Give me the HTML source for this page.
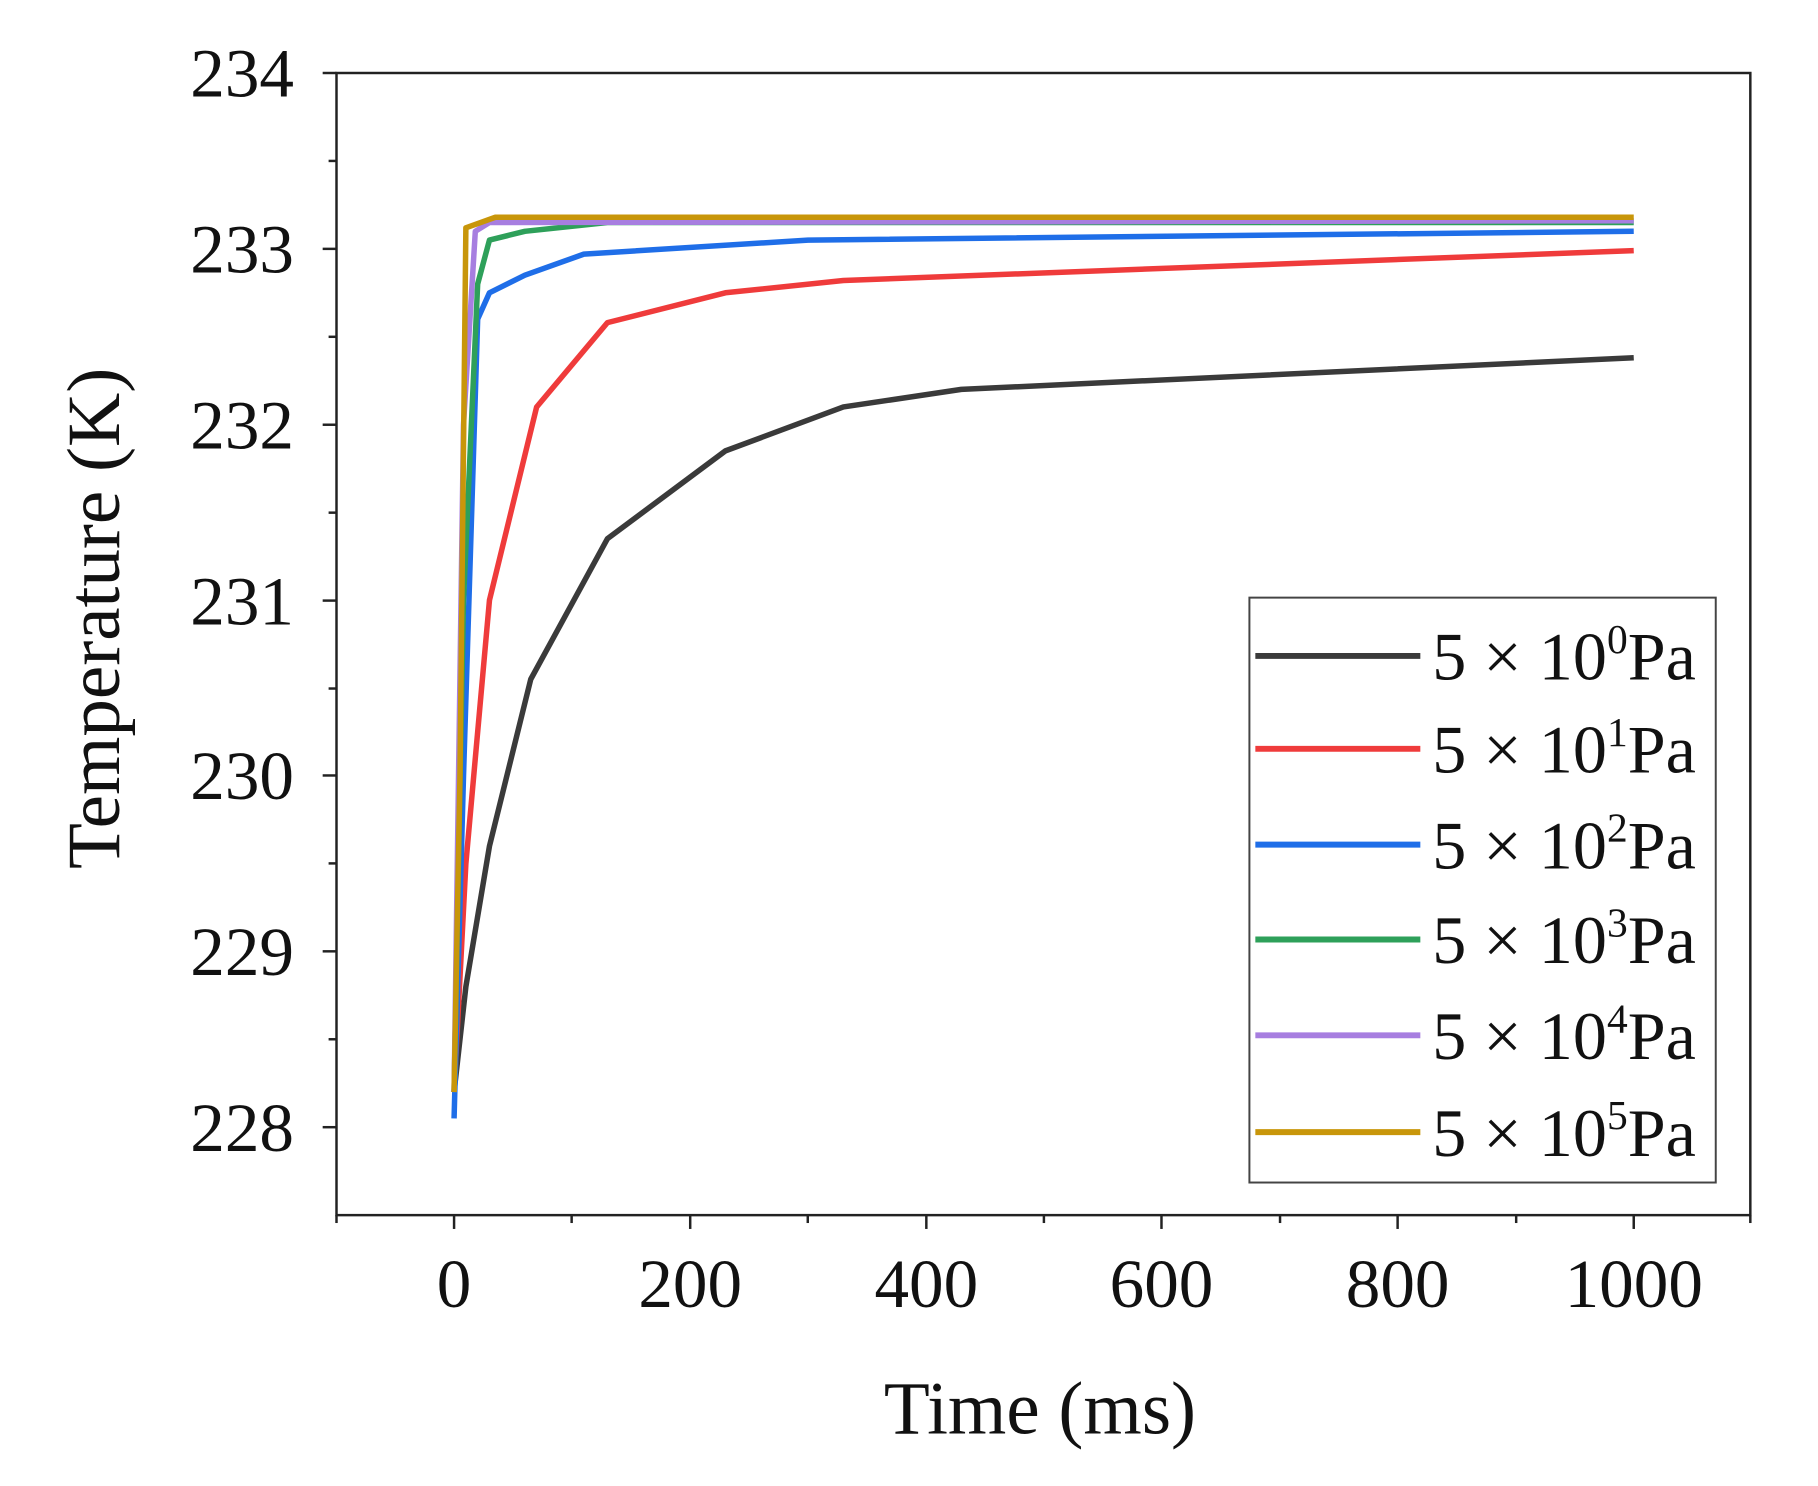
<!DOCTYPE html>
<html><head><meta charset="utf-8"><style>
html,body{margin:0;padding:0;background:#fff;}
text{font-family:"Liberation Serif",serif;fill:#111;}
</style></head><body>
<svg width="1818" height="1481" viewBox="0 0 1818 1481" xmlns="http://www.w3.org/2000/svg">
<rect width="1818" height="1481" fill="#fff"/>
<g transform="translate(336.5,73) scale(0.988) translate(-340,-73)">
<rect x="340" y="73" width="1431" height="1156" fill="none" stroke="#222" stroke-width="2.5"/>
<g stroke="#222" stroke-width="2.5">
<line x1="340" y1="1229" x2="340" y2="1237"/>
<line x1="459" y1="1229" x2="459" y2="1243"/>
<line x1="578" y1="1229" x2="578" y2="1237"/>
<line x1="698" y1="1229" x2="698" y2="1243"/>
<line x1="817" y1="1229" x2="817" y2="1237"/>
<line x1="937" y1="1229" x2="937" y2="1243"/>
<line x1="1056" y1="1229" x2="1056" y2="1237"/>
<line x1="1175" y1="1229" x2="1175" y2="1243"/>
<line x1="1295" y1="1229" x2="1295" y2="1237"/>
<line x1="1414" y1="1229" x2="1414" y2="1243"/>
<line x1="1534" y1="1229" x2="1534" y2="1237"/>
<line x1="1653" y1="1229" x2="1653" y2="1243"/>
<line x1="1771" y1="1229" x2="1771" y2="1237"/>
<line x1="340" y1="73" x2="326" y2="73"/>
<line x1="340" y1="162" x2="332" y2="162"/>
<line x1="340" y1="251" x2="326" y2="251"/>
<line x1="340" y1="340" x2="332" y2="340"/>
<line x1="340" y1="429" x2="326" y2="429"/>
<line x1="340" y1="518" x2="332" y2="518"/>
<line x1="340" y1="607" x2="326" y2="607"/>
<line x1="340" y1="696" x2="332" y2="696"/>
<line x1="340" y1="784" x2="326" y2="784"/>
<line x1="340" y1="873" x2="332" y2="873"/>
<line x1="340" y1="962" x2="326" y2="962"/>
<line x1="340" y1="1051" x2="332" y2="1051"/>
<line x1="340" y1="1140" x2="326" y2="1140"/>
</g>
<g font-size="70" text-anchor="end">
<text x="297" y="97">234</text>
<text x="297" y="275">233</text>
<text x="297" y="453">232</text>
<text x="297" y="631">231</text>
<text x="297" y="808">230</text>
<text x="297" y="986">229</text>
<text x="297" y="1164">228</text>
</g>
<g font-size="70" text-anchor="middle">
<text x="459" y="1322">0</text>
<text x="698" y="1322">200</text>
<text x="937" y="1322">400</text>
<text x="1175" y="1322">600</text>
<text x="1414" y="1322">800</text>
<text x="1653" y="1322">1000</text>
</g>
<text x="1052" y="1450" font-size="76" text-anchor="middle">Time (ms)</text>
<text transform="translate(120,625) rotate(-90)" font-size="76" text-anchor="middle">Temperature (K)</text>
<g transform="matrix(1.194 0 0 -177.8 459 41678.4)" fill="none" stroke-width="5.5" stroke-linejoin="round">
<polyline vector-effect="non-scaling-stroke" stroke="#3a3a3a" points="0,228.2 10,228.8 30,229.6 65,230.55 130,231.35 230,231.85 330,232.1 430,232.2 1000,232.38"/>
<polyline vector-effect="non-scaling-stroke" stroke="#ef3b3b" points="0,228.2 10,229.5 30,231 70,232.1 130,232.58 230,232.75 330,232.82 1000,232.99"/>
<polyline vector-effect="non-scaling-stroke" stroke="#1f6ee8" points="0,228.05 8,230 20,232.6 30,232.75 60,232.85 110,232.97 300,233.05 1000,233.1"/>
<polyline vector-effect="non-scaling-stroke" stroke="#2ea05a" points="0,228.2 8,231 20,232.8 30,233.05 60,233.1 130,233.15 1000,233.15"/>
<polyline vector-effect="non-scaling-stroke" stroke="#a77ee0" points="0,228.2 8,232 18,233.1 30,233.15 1000,233.16"/>
<polyline vector-effect="non-scaling-stroke" stroke="#c8960a" points="0,228.2 5,230 10,233.12 35,233.18 1000,233.18"/>
</g>
<rect x="1264" y="604" width="472" height="592" fill="#fff" stroke="#444" stroke-width="2"/>
<g stroke-width="6">
<line x1="1270" y1="663" x2="1437" y2="663" stroke="#3a3a3a"/>
<line x1="1270" y1="757" x2="1437" y2="757" stroke="#ef3b3b"/>
<line x1="1270" y1="854" x2="1437" y2="854" stroke="#1f6ee8"/>
<line x1="1270" y1="950" x2="1437" y2="950" stroke="#2ea05a"/>
<line x1="1270" y1="1047" x2="1437" y2="1047" stroke="#a77ee0"/>
<line x1="1270" y1="1145" x2="1437" y2="1145" stroke="#c8960a"/>
</g>
<g font-size="69">
<text x="1449" y="687">5 × 10<tspan font-size="42" dy="-27">0</tspan><tspan dy="27">Pa</tspan></text>
<text x="1449" y="781">5 × 10<tspan font-size="42" dy="-27">1</tspan><tspan dy="27">Pa</tspan></text>
<text x="1449" y="878">5 × 10<tspan font-size="42" dy="-27">2</tspan><tspan dy="27">Pa</tspan></text>
<text x="1449" y="974">5 × 10<tspan font-size="42" dy="-27">3</tspan><tspan dy="27">Pa</tspan></text>
<text x="1449" y="1071">5 × 10<tspan font-size="42" dy="-27">4</tspan><tspan dy="27">Pa</tspan></text>
<text x="1449" y="1169">5 × 10<tspan font-size="42" dy="-27">5</tspan><tspan dy="27">Pa</tspan></text>
</g>
</g>
</svg>
</body></html>
